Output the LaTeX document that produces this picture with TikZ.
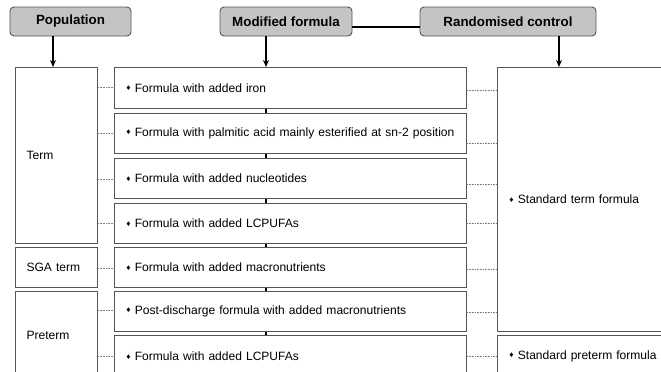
\documentclass[tikz,border=0pt]{standalone}
\usepackage{fontspec}
\setmainfont{Liberation Sans}
\newfontfamily\dejavu{DejaVu Sans}
\usetikzlibrary{arrows.meta}
\newcommand\bul{\raisebox{1.8bp}{\dejavu\fontsize{6.5}{6.5}\selectfont ♦}\hspace{3.5bp}}
\definecolor{hdrfill}{HTML}{C4C4C4}
\definecolor{boxline}{HTML}{555555}
\tikzset{
  hdr/.style={draw=boxline, fill=hdrfill, line width=0.9bp, rounded corners=4bp, minimum height=29bp, inner sep=0pt, font=\fontsize{13.4}{15}\selectfont\bfseries},
  colbox/.style={draw=boxline, line width=1.1bp, inner ysep=0pt, inner xsep=11bp, anchor=north west, align=left, font=\fontsize{12.1}{14}\selectfont},
  arr/.style={-{Stealth[length=7bp,width=6bp]}, line width=1.5bp},
  dotline/.style={draw=gray, densely dotted, line width=0.6bp},
  tickline/.style={line width=1.5bp},
  joinline/.style={line width=1.3bp}
}
\begin{document}
\begin{tikzpicture}[x=1bp,y=-1bp]
\useasboundingbox (0,0) rectangle (661,371);
\clip (0,0) rectangle (661,371);
% headers
\node[hdr, minimum width=121bp] (pop) at (70.5,21.5) {Population};
\node[hdr, minimum width=132bp] (mod) at (286,21.5) {Modified formula};
\node[hdr, minimum width=176bp] (rnd) at (508,21.5) {Randomised control};
% left column
\node[colbox, minimum width=82bp, minimum height=176bp, text width=60bp] (term) at (15,67) {Term};
\node[colbox, minimum width=82bp, minimum height=40bp, text width=60bp] (sga) at (15,247) {SGA term};
\node[colbox, minimum width=82bp, minimum height=88bp, text width=60bp] (pre) at (15,291) {Preterm};
% middle column
\node[colbox, minimum width=352bp, minimum height=41bp, text width=330bp] (m1) at (114,67) {\mbox{\bul Formula with added iron}};
\node[colbox, minimum width=352bp, minimum height=40bp, text width=330bp] (m2) at (114,113) {\mbox{\bul Formula with palmitic acid mainly esterified at sn-2 position}};
\node[colbox, minimum width=352bp, minimum height=40bp, text width=330bp] (m3) at (114,158) {\mbox{\bul Formula with added nucleotides}};
\node[colbox, minimum width=352bp, minimum height=40bp, text width=330bp] (m4) at (114,203) {\mbox{\bul Formula with added LCPUFAs}};
\node[colbox, minimum width=352bp, minimum height=40bp, text width=330bp] (m5) at (114,247) {\mbox{\bul Formula with added macronutrients}};
\node[colbox, minimum width=352bp, minimum height=40bp, text width=330bp] (m6) at (114,291) {\mbox{\bul Post-discharge formula with added macronutrients}};
\node[colbox, minimum width=352bp, minimum height=42bp, text width=330bp] (m7) at (114,335) {\mbox{\bul Formula with added LCPUFAs}};
% right column
\node[colbox, minimum width=190bp, minimum height=264bp, text width=168bp] (r1) at (497,67) {\mbox{\bul Standard term formula}};
\node[colbox, minimum width=190bp, minimum height=42bp, text width=168bp] (r2) at (497,335) {\mbox{\bul Standard preterm formula}};
% arrow x positions
\coordinate (ax1) at (53,0);
\coordinate (ax2) at (266,0);
\coordinate (ax3) at (559,0);
\draw[arr] (pop.south -| ax1) -- (term.north -| ax1);
\draw[arr] (mod.south -| ax2) -- (m1.north -| ax2);
\draw[arr] (rnd.south -| ax3) -- (r1.north -| ax3);
\draw[joinline] ([yshift=-5.5bp]mod.east) -- ([yshift=-5.5bp]mod.east -| rnd.west);
% ticks between middle boxes
\foreach \a/\b in {m1/m2,m2/m3,m3/m4,m4/m5,m5/m6,m6/m7}
  \draw[tickline] (\a.south -| ax2) -- (\b.north -| ax2);
% dotted links left
\coordinate (l1) at (0,87);
\coordinate (l2) at (0,133);
\coordinate (l3) at (0,179);
\coordinate (l4) at (0,223);
\coordinate (l5) at (0,268);
\coordinate (l6) at (0,310);
\coordinate (l7) at (0,356);
\foreach \y/\m/\s in {l1/m1/term,l2/m2/term,l3/m3/term,l4/m4/term,l5/m5/sga,l6/m6/pre,l7/m7/pre}
  \draw[dotline] (\s.east |- \y) -- (\m.west |- \y);
% dotted links right
\coordinate (q1) at (0,90);
\coordinate (q2) at (0,143);
\coordinate (q3) at (0,184);
\coordinate (q4) at (0,223);
\coordinate (q5) at (0,269);
\coordinate (q6) at (0,312);
\coordinate (q7) at (0,356);
\foreach \y/\m/\r in {q1/m1/r1,q2/m2/r1,q3/m3/r1,q4/m4/r1,q5/m5/r1,q6/m6/r1,q7/m7/r2}
  \draw[dotline] (\m.east |- \y) -- (\r.west |- \y);
\end{tikzpicture}
\end{document}
